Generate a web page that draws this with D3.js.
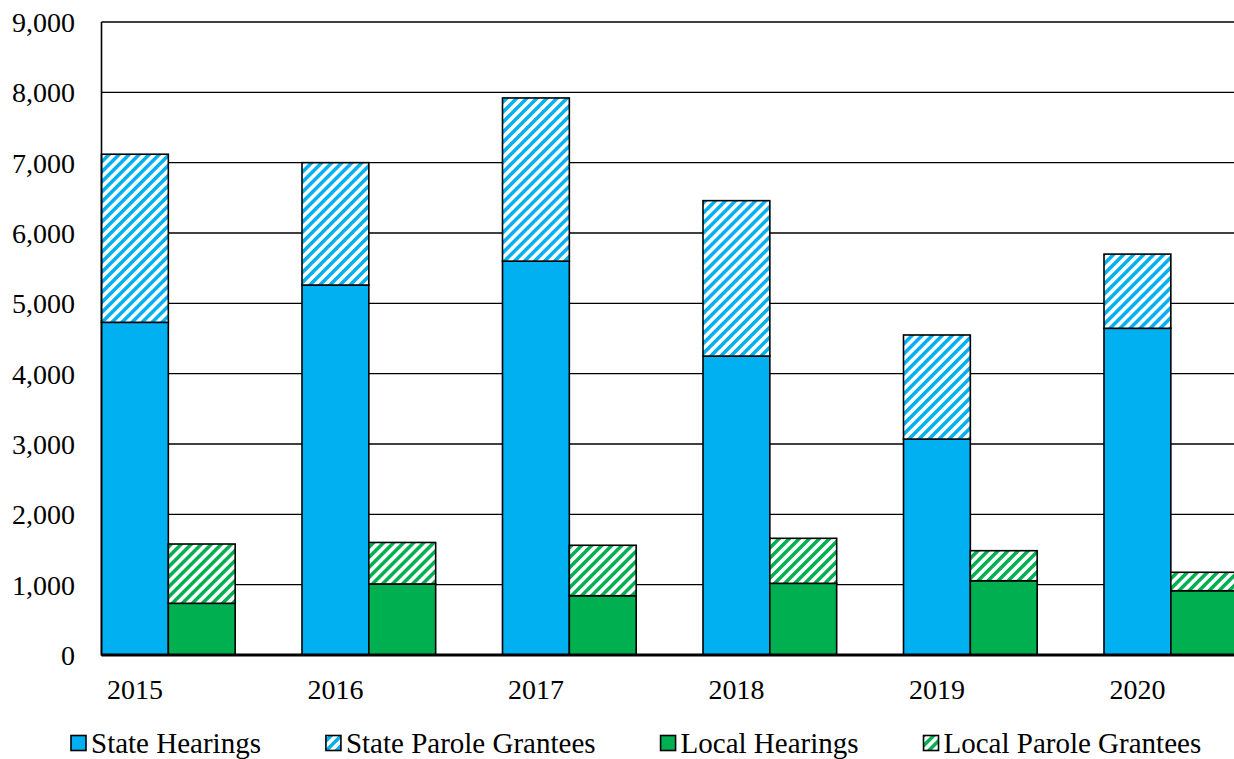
<!DOCTYPE html>
<html>
<head>
<meta charset="utf-8">
<script src="https://cdn.jsdelivr.net/npm/d3@7"></script>
<style>
  html, body { margin: 0; padding: 0; background: #fff; overflow: hidden; }
  svg { display: block; }
  text { font-family: "Liberation Serif", "Times New Roman", serif; fill: #000; }
</style>
</head>
<body>
<svg id="chart" width="1234" height="759"></svg>
<script>
// Parole hearings and grantees, state vs. local boards
const years = ["2015", "2016", "2017", "2018", "2019", "2020"];
const stateHearings = [4730, 5260, 5600, 4250, 3070, 4645];
const stateGrantees = [2390, 1740, 2320, 2210, 1480, 1055];
const localHearings = [735, 1010, 843, 1019, 1056, 914];
const localGrantees = [843, 590, 717, 640, 427, 262];
const yTicks = [0, 1000, 2000, 3000, 4000, 5000, 6000, 7000, 8000, 9000];
const legendLabels = ["State Hearings", "State Parole Grantees", "Local Hearings", "Local Parole Grantees"];

const BLUE = "#00B0F0", GREEN = "#00B050";

const svg = d3.select("#chart");
const plotLeft = 101.5, plotTop = 22, plotBottom = 655;
const plotRight = plotLeft + 6 * 200.5;

const x = d3.scaleBand().domain(years).range([plotLeft, plotRight]).paddingInner(0).paddingOuter(0);
const y = d3.scaleLinear().domain([0, 9000]).range([plotBottom, plotTop]);
const barW = x.bandwidth() / 3;

// Diagonal hatch fills
const defs = svg.append("defs");
function hatch(id, color) {
  const p = defs.append("pattern")
    .attr("id", id)
    .attr("patternUnits", "userSpaceOnUse")
    .attr("width", 7.1).attr("height", 7.1)
    .attr("patternTransform", "rotate(45)");
  p.append("rect").attr("width", 7.1).attr("height", 7.1).attr("fill", "#fff");
  p.append("rect").attr("width", 3.5).attr("height", 7.1).attr("fill", color);
}
hatch("hatchBlue", BLUE);
hatch("hatchGreen", GREEN);

// Horizontal gridlines
svg.append("g")
  .selectAll("line")
  .data(yTicks.filter(d => d > 0))
  .join("line")
  .attr("x1", plotLeft).attr("x2", plotRight)
  .attr("y1", d => y(d)).attr("y2", d => y(d))
  .attr("stroke", "#000").attr("stroke-width", 1.4);

// Y axis labels
const yAxis = d3.axisLeft(y).tickValues(yTicks).tickSize(0).tickPadding(0)
  .tickFormat(d3.format(","));
const gy = svg.append("g").attr("transform", `translate(75,0)`).call(yAxis);
gy.select(".domain").remove();
gy.selectAll("text")
  .attr("font-family", "Liberation Serif, Times New Roman, serif")
  .attr("font-size", 28).attr("fill", "#000").attr("dy", "0.34em");

// Stacked bars
const stacks = [
  { key: "state", off: 0, segs: [[stateHearings, BLUE], [stateGrantees, "url(#hatchBlue)"]] },
  { key: "local", off: 1, segs: [[localHearings, GREEN], [localGrantees, "url(#hatchGreen)"]] }
];
const barsG = svg.append("g");
stacks.forEach(s => {
  years.forEach((yr, i) => {
    let base = 0;
    s.segs.forEach(([vals, fill]) => {
      const v = vals[i];
      barsG.append("rect")
        .attr("x", x(yr) + s.off * barW)
        .attr("width", barW)
        .attr("y", y(base + v))
        .attr("height", y(base) - y(base + v))
        .attr("fill", fill)
        .attr("stroke", "#000").attr("stroke-width", 1.6);
      base += v;
    });
  });
});

// Axis lines
svg.append("line").attr("x1", plotLeft).attr("x2", plotLeft).attr("y1", plotTop).attr("y2", plotBottom)
  .attr("stroke", "#000").attr("stroke-width", 1.6);
svg.append("line").attr("x1", plotLeft).attr("x2", plotRight).attr("y1", plotBottom).attr("y2", plotBottom)
  .attr("stroke", "#000").attr("stroke-width", 2.8);

// Year labels under the state bar of each group
const xAxis = d3.axisBottom(x).tickSize(0).tickPadding(0);
const gx = svg.append("g").attr("transform", `translate(${-x.bandwidth() / 2 + barW / 2},${plotBottom})`).call(xAxis);
gx.select(".domain").remove();
gx.selectAll("text")
  .attr("font-family", "Liberation Serif, Times New Roman, serif")
  .attr("font-size", 28).attr("fill", "#000").attr("y", 44).attr("dy", 0);

// Legend
const legendFills = [BLUE, "url(#hatchBlue)", GREEN, "url(#hatchGreen)"];
const lg = svg.append("g");
let lx = 70;
legendLabels.forEach((lab, i) => {
  lg.append("rect").attr("x", lx + 1).attr("y", 735.5).attr("width", 15).attr("height", 15)
    .attr("fill", legendFills[i]).attr("stroke", "#000").attr("stroke-width", 1.6);
  const t = lg.append("text").attr("x", lx + 21).attr("y", 752.5)
    .attr("font-size", 29).text(lab);
  lx += 21 + t.node().getComputedTextLength() + 64;
});
</script>
</body>
</html>
